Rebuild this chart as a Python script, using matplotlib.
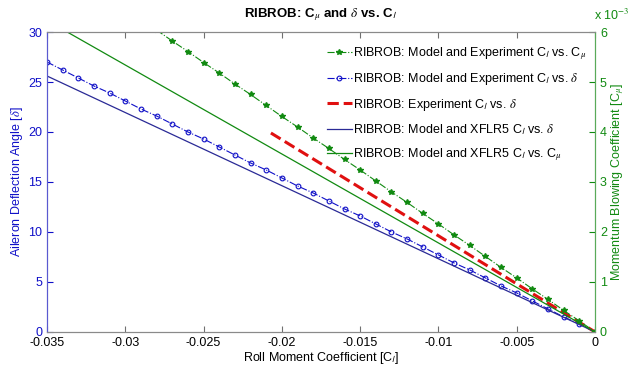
import numpy as np
import matplotlib
matplotlib.use('Agg')
import matplotlib.pyplot as plt
from matplotlib.ticker import FuncFormatter

plt.rcParams['font.family'] = ['Liberation Sans', 'DejaVu Sans']
plt.rcParams['mathtext.fontset'] = 'stix'

# model + experiment, Cl vs delta (left axis)
cl_delta = [-0.035, -0.034, -0.033, -0.032, -0.031, -0.030, -0.029, -0.028, -0.027,
            -0.026, -0.025, -0.024, -0.023, -0.022, -0.021, -0.020, -0.019, -0.018,
            -0.017, -0.016, -0.015, -0.014, -0.013, -0.012, -0.011, -0.010, -0.009,
            -0.008, -0.007, -0.006, -0.005, -0.004, -0.003, -0.002, -0.001, 0.0]
delta_exp = [27.0, 26.2, 25.4, 24.6, 23.9, 23.1, 22.3, 21.6, 20.8,
             20.0, 19.3, 18.5, 17.7, 16.9, 16.2, 15.4, 14.6, 13.9,
             13.1, 12.3, 11.6, 10.8, 10.0, 9.3, 8.5, 7.7, 6.9,
             6.2, 5.4, 4.6, 3.9, 3.1, 2.3, 1.5, 0.8, 0.0]

# model + experiment, Cl vs Cmu (right axis, x1e-3)
cl_cmu = [-0.028, -0.027, -0.026, -0.025, -0.024, -0.023, -0.022, -0.021, -0.020,
          -0.019, -0.018, -0.017, -0.016, -0.015, -0.014, -0.013, -0.012, -0.011,
          -0.010, -0.009, -0.008, -0.007, -0.006, -0.005, -0.004, -0.003, -0.002,
          -0.001, 0.0]
cmu_exp = [6.04, 5.82, 5.61, 5.39, 5.18, 4.96, 4.75, 4.53, 4.31,
           4.10, 3.88, 3.67, 3.45, 3.24, 3.02, 2.80, 2.59, 2.37,
           2.16, 1.94, 1.73, 1.51, 1.29, 1.08, 0.86, 0.65, 0.43,
           0.22, 0.0]

# experiment only, Cl vs delta
cl_red = [-0.0207, 0.0]
delta_red = [19.9, 0.0]

# XFLR5 fits
cl_xflr = [-0.035, 0.0]
delta_xflr = [25.6, 0.0]
cmu_xflr = [6.23, 0.0]

blue = '#1010c8'
navy = '#2a2a96'
green = '#118a11'

fig = plt.figure(figsize=(6.31, 3.68), dpi=100)
ax = fig.add_axes([0.0745, 0.098, 0.8685, 0.815])
ax2 = ax.twinx()

l1, = ax2.plot(cl_cmu, np.array(cmu_exp) * 1e-3, '-.', color=green, lw=0.8,
               marker='*', ms=4, mfc=green, mec=green)
l2, = ax.plot(cl_delta, delta_exp, '-.', color=blue, lw=0.8,
              marker='o', ms=3.4, mfc='none', mec=blue, mew=0.8)
l3, = ax.plot(cl_red, delta_red, '--', color='#e01010', lw=2.2)
l4, = ax.plot(cl_xflr, delta_xflr, '-', color=navy, lw=0.9)
l5, = ax2.plot(cl_xflr, np.array(cmu_xflr) * 1e-3, '-', color=green, lw=0.9)

ax.set_xlim(-0.035, 0)
ax.set_ylim(0, 30)
ax2.set_ylim(0, 6e-3)
ax.set_xticks(np.arange(-0.035, 0.0001, 0.005))
ax.xaxis.set_major_formatter(FuncFormatter(lambda v, p: '0' if abs(v) < 1e-9 else f'{v:g}'))
ax.set_yticks(range(0, 31, 5))
ax2.set_yticks(np.arange(0, 6.1e-3, 1e-3))
ax2.yaxis.set_major_formatter(FuncFormatter(lambda v, p: f'{v * 1e3:.0f}'))

ax.tick_params(axis='x', direction='in', top=True, labelsize=9, length=4, color='#707070')
ax.tick_params(axis='y', direction='in', labelsize=9, length=4, colors=blue)
ax2.tick_params(axis='y', direction='in', labelsize=9, length=4, colors=green)

for a in (ax, ax2):
    a.spines['top'].set_color('#8a8a8a')
    a.spines['bottom'].set_color('#8a8a8a')
    a.spines['left'].set_color('#5a5ad0')
    a.spines['right'].set_color('#5aaa5a')

ax.set_xlabel(r'Roll Moment Coefficient [C$_{\mathsf{l}}$]', fontsize=9, labelpad=1)
ax.set_ylabel(r'Aileron Deflection Angle [$\delta$]', fontsize=9, color=blue, labelpad=2)
ax2.set_ylabel(r'Momentum Blowing Coefficient [C$_{\mu}$]', fontsize=9, color=green, labelpad=2)
ax.set_title(r'RIBROB: C$_{\mu}$ and $\delta$ vs. C$_{\mathsf{l}}$', fontsize=9.5,
             fontweight='bold', pad=11)
ax2.text(0.998, 1.03, r'x 10$^{-3}$', transform=ax2.transAxes, fontsize=9,
         color=green, ha='left', va='bottom')

labels = [r'RIBROB: Model and Experiment C$_{\mathsf{l}}$ vs. C$_{\mu}$',
          r'RIBROB: Model and Experiment C$_{\mathsf{l}}$ vs. $\delta$',
          r'RIBROB: Experiment C$_{\mathsf{l}}$ vs. $\delta$',
          r'RIBROB: Model and XFLR5 C$_{\mathsf{l}}$ vs. $\delta$',
          r'RIBROB: Model and XFLR5 C$_{\mathsf{l}}$ vs. C$_{\mu}$']
ax2.legend([l1, l2, l3, l4, l5], labels, loc='upper right', bbox_to_anchor=(1.0, 0.985),
           frameon=False, fontsize=9, handlelength=2.0, handletextpad=0.1,
           labelspacing=0.75, borderaxespad=0.3)

fig.savefig('out.png', dpi=100)
